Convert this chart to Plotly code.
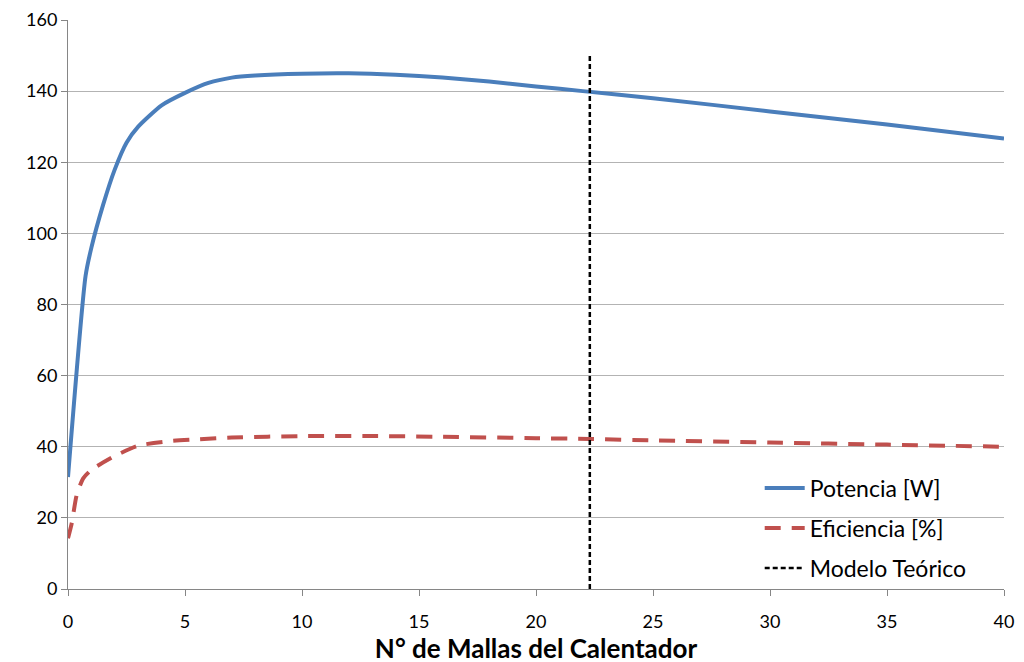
import plotly.graph_objects as go

# Potencia [W] vs number of meshes
mallas_pot = [0, 0.75, 1, 1.5, 2, 2.5, 3, 4, 5, 6, 7, 8, 10, 12, 14, 16, 18, 20, 22, 25, 30, 35, 40]
potencia = [31.5, 88, 96, 108, 118, 125.5, 130, 136, 139.5, 142.3, 143.8, 144.4, 144.9, 145, 144.6,
            143.8, 142.7, 141.3, 140, 138, 134.3, 130.6, 126.7]

# Eficiencia [%]
mallas_ef = [0, 0.16, 0.37, 0.65, 1, 2, 3, 4.4, 5.6, 7, 10, 13, 16, 20, 22.3, 25, 30, 35, 40]
eficiencia = [14.3, 18.5, 26.4, 31.1, 33.5, 37.4, 40.3, 41.6, 42.1, 42.6, 43, 43, 42.8, 42.4, 42.2,
              41.8, 41.2, 40.6, 40]

# Modelo teórico (vertical marker)
modelo_x = [22.3, 22.3]
modelo_y = [0, 150]

font = "Lato, 'Open Sans', sans-serif"

fig = go.Figure()

fig.add_trace(go.Scatter(
    x=mallas_pot, y=potencia, mode="lines", name="Potencia [W]", legendgroup="p",
    line=dict(color="#4a7ebb", width=4, shape="spline", smoothing=0.6),
))

fig.add_trace(go.Scatter(
    x=mallas_ef, y=eficiencia, mode="lines", name="Eficiencia [%]", legendgroup="e",
    line=dict(color="#c0504d", width=4, dash="16px,11px", shape="spline", smoothing=0.6),
))

fig.add_trace(go.Scatter(
    x=modelo_x, y=modelo_y, mode="lines", name="Modelo Teórico", legendgroup="m",
    line=dict(color="black", width=2.5, dash="5px,3px"),
))

# page body has an 8px margin, so the canvas is offset by 8px
fig.update_layout(
    width=1024,
    height=662,
    plot_bgcolor="white",
    paper_bgcolor="white",
    font=dict(family=font, size=18, color="black"),
    margin=dict(l=60, r=28, t=12, b=81, autoexpand=False),
    showlegend=True,
    legend=dict(
        x=0.739, y=0.215, xanchor="left", yanchor="top",
        bgcolor="rgba(0,0,0,0)",
        font=dict(size=23, family=font),
        tracegroupgap=7,
        itemwidth=40,
    ),
)

fig.update_xaxes(
    range=[0, 40],
    tickmode="linear", tick0=0, dtick=5,
    showgrid=False,
    showline=True, linecolor="#868686", linewidth=1,
    ticks="outside", ticklen=6, tickcolor="#868686",
    ticklabelstandoff=10,
    tickfont=dict(size=18),
    title=dict(text="<b>N° de Mallas del Calentador</b>", font=dict(size=26), standoff=1),
    zeroline=False,
    automargin=False,
)

fig.update_yaxes(
    range=[0, 160],
    tickmode="linear", tick0=0, dtick=20,
    showgrid=True, gridcolor="#b3b3b3", gridwidth=1,
    showline=True, linecolor="#868686", linewidth=1,
    ticks="outside", ticklen=6, tickcolor="#868686",
    tickfont=dict(size=18),
    zeroline=False,
    automargin=False,
)

fig.write_html("out.html")
